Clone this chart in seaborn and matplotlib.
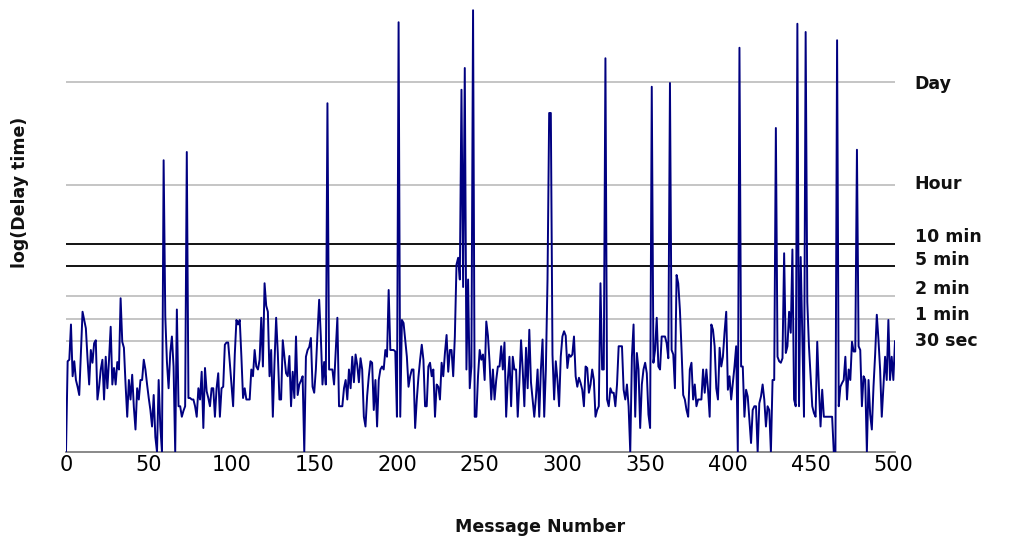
import numpy as np
import pandas as pd
import matplotlib
matplotlib.use("Agg")
import matplotlib.pyplot as plt
import seaborn as sns

# log10 of delay time (seconds) per message
delay_log = [
    0.00, 1.21, 1.23, 1.70, 1.01, 1.21, 0.96, 0.87, 0.76, 1.30,
    1.87, 1.76, 1.65, 1.25, 0.90, 1.36, 1.19, 1.45, 1.49, 0.70,
    0.87, 1.10, 1.23, 0.70, 1.27, 0.85, 1.23, 1.67, 0.90, 1.12,
    0.90, 1.20, 1.10, 2.05, 1.47, 1.39, 0.90, 0.47, 0.96, 0.70,
    1.03, 0.60, 0.30, 0.85, 0.70, 0.96, 0.96, 1.23, 1.10, 0.90,
    0.72, 0.56, 0.34, 0.76, 0.20, 0.00, 0.96, 0.34, 0.00, 3.89,
    1.81, 1.20, 0.85, 1.32, 1.54, 1.14, 0.00, 1.90, 0.61, 0.61,
    0.47, 0.55, 0.61, 4.00, 0.72, 0.72, 0.70, 0.70, 0.61, 0.47,
    0.85, 0.70, 1.07, 0.32, 1.12, 0.81, 0.72, 0.61, 0.85, 0.85,
    0.47, 0.85, 1.05, 0.47, 0.85, 0.87, 1.43, 1.46, 1.46, 1.19,
    0.90, 0.61, 1.30, 1.76, 1.70, 1.76, 1.27, 0.72, 0.85, 0.70,
    0.70, 0.70, 1.10, 1.01, 1.36, 1.14, 1.10, 1.23, 1.79, 1.14,
    2.25, 1.95, 1.87, 1.01, 1.36, 0.47, 1.19, 1.79, 1.32, 0.70,
    0.70, 1.49, 1.27, 1.05, 1.01, 1.28, 0.61, 1.07, 0.72, 1.54,
    0.76, 0.90, 0.95, 1.01, 0.00, 1.27, 1.36, 1.40, 1.52, 0.87,
    0.79, 1.10, 1.59, 2.03, 1.54, 0.90, 1.20, 0.90, 4.65, 1.10,
    1.10, 1.10, 0.90, 1.36, 1.79, 0.61, 0.61, 0.61, 0.85, 0.96,
    0.70, 1.10, 0.85, 1.27, 0.93, 1.30, 1.16, 0.93, 1.25, 1.10,
    0.47, 0.34, 0.75, 1.01, 1.21, 1.19, 0.56, 0.96, 0.34, 0.96,
    1.10, 1.14, 1.10, 1.36, 1.27, 2.16, 1.36, 1.36, 1.36, 1.34,
    0.47, 5.73, 0.47, 1.76, 1.72, 1.50, 1.27, 0.87, 1.01, 1.10,
    1.10, 0.32, 0.70, 1.00, 1.23, 1.43, 1.23, 0.61, 0.61, 1.14,
    1.19, 1.01, 1.10, 0.47, 0.90, 0.87, 0.70, 1.19, 1.01, 1.32,
    1.56, 1.07, 1.36, 1.36, 1.01, 1.54, 2.50, 2.59, 2.30, 4.83,
    2.20, 5.12, 1.10, 2.30, 0.85, 1.14, 5.89, 0.47, 0.47, 1.01,
    1.36, 1.23, 1.30, 0.96, 1.74, 1.55, 1.19, 0.70, 1.10, 0.70,
    0.96, 1.14, 1.14, 1.41, 1.10, 1.46, 0.47, 0.96, 1.27, 0.61,
    1.27, 1.10, 1.10, 0.47, 0.93, 1.49, 1.10, 0.61, 1.39, 0.85,
    1.63, 0.93, 0.70, 0.47, 0.73, 1.10, 0.47, 1.10, 1.50, 0.47,
    1.10, 2.30, 4.52, 4.52, 1.30, 0.70, 1.21, 0.96, 0.61, 1.27,
    1.54, 1.61, 1.55, 1.12, 1.30, 1.27, 1.30, 1.54, 1.01, 0.87,
    0.99, 0.92, 0.83, 0.61, 1.14, 1.12, 0.79, 0.90, 1.10, 0.96,
    0.47, 0.56, 0.61, 2.25, 1.10, 1.10, 5.25, 0.70, 0.61, 0.85,
    0.79, 0.79, 0.61, 0.90, 1.41, 1.41, 1.41, 0.83, 0.70, 0.90,
    0.61, 0.00, 1.27, 1.70, 0.47, 1.32, 1.10, 0.32, 0.90, 1.10,
    1.19, 1.05, 0.50, 0.32, 4.87, 1.19, 1.36, 1.79, 1.14, 1.10,
    1.54, 1.54, 1.54, 1.45, 1.25, 4.92, 1.36, 1.30, 0.85, 2.36,
    2.25, 1.90, 1.36, 0.76, 0.70, 0.56, 0.47, 1.10, 1.19, 0.70,
    0.90, 0.61, 0.70, 0.70, 0.70, 1.10, 0.79, 1.10, 0.83, 0.47,
    1.70, 1.63, 1.41, 0.85, 0.70, 1.39, 1.14, 1.27, 1.60, 1.87,
    0.83, 1.01, 0.70, 0.92, 1.14, 1.41, 0.00, 5.39, 1.14, 1.14,
    0.47, 0.83, 0.74, 0.43, 0.12, 0.56, 0.61, 0.61, 0.00, 0.65,
    0.74, 0.90, 0.70, 0.34, 0.61, 0.56, 0.00, 0.96, 0.96, 4.32,
    1.27, 1.21, 1.19, 1.25, 2.65, 1.32, 1.41, 1.87, 1.59, 2.70,
    0.70, 0.61, 5.71, 0.61, 2.60, 1.50, 0.47, 5.60, 2.00, 1.41,
    1.00, 0.61, 0.52, 0.47, 1.47, 0.87, 0.34, 0.83, 0.47, 0.47,
    0.47, 0.47, 0.47, 0.47, 0.00, 0.00, 5.49, 0.61, 0.87, 0.92,
    0.96, 1.27, 0.70, 1.10, 0.96, 1.47, 1.34, 1.34, 4.03, 1.41,
    1.36, 0.61, 1.01, 0.96, 0.00, 0.96, 0.50, 0.30, 0.87, 1.30,
    1.83, 1.50, 1.10, 0.47, 0.87, 1.27, 0.96, 1.76, 0.96, 1.27,
    0.96, 1.48,
]
message_number = list(range(len(delay_log)))

# reference delay levels (seconds) and their labels
level_names = ["30 sec", "1 min", "2 min", "5 min", "10 min", "Hour", "Day"]
level_seconds = [30, 60, 120, 300, 600, 3600, 86400]
level_colors = ["#c0c0c0", "#c0c0c0", "#c0c0c0", "#000000", "#000000", "#c0c0c0", "#c0c0c0"]
label_offsets = [0.00, 0.05, 0.09, 0.08, 0.09, 0.02, -0.03]  # small nudges of the text vs its line

x_ticks = [0, 50, 100, 150, 200, 250, 300, 350, 400, 450, 500]

sns.set_theme(style="white")
plt.rcParams["font.family"] = ["DejaVu Sans"]

df = pd.DataFrame({"Message Number": message_number, "logdelay": delay_log})

fig = plt.figure(figsize=(10.21, 5.43), dpi=100)
ax = fig.add_axes([66 / 1021, 91 / 543, 829 / 1021, 450 / 543])

x_end = message_number[-1]
for secs, col in zip(level_seconds, level_colors):
    ax.hlines(np.log10(secs), 0, x_end, color=col, lw=1.3, zorder=1)

sns.lineplot(data=df, x="Message Number", y="logdelay", ax=ax, color="#000080",
             lw=1.4, zorder=3, estimator=None)

for name, secs, off in zip(level_names, level_seconds, label_offsets):
    ax.text(x_end + 12, np.log10(secs) + off, name, fontsize=12.5, fontweight="bold",
            va="center", ha="left", clip_on=False, color="#111111")

ax.set_xlim(0, x_end)
ax.set_ylim(0, 6)
ax.set_xticks(x_ticks)
ax.set_xticklabels([str(t) for t in x_ticks], fontsize=15)
ax.set_yticks([])
ax.tick_params(axis="x", length=0, pad=2, colors="#000000")
for s in ["top", "right", "left"]:
    ax.spines[s].set_visible(False)
ax.spines["bottom"].set_color("#808080")
ax.spines["bottom"].set_linewidth(1.3)
ax.set_xlabel("Message Number", fontsize=12.5, fontweight="bold", color="#111111")
ax.xaxis.set_label_coords(0.572, -0.146)
ax.set_ylabel("log(Delay time)", fontsize=12.5, fontweight="bold", color="#111111")
ax.yaxis.set_label_coords(-0.045, 0.578)

fig.savefig("out.png", dpi=100)
